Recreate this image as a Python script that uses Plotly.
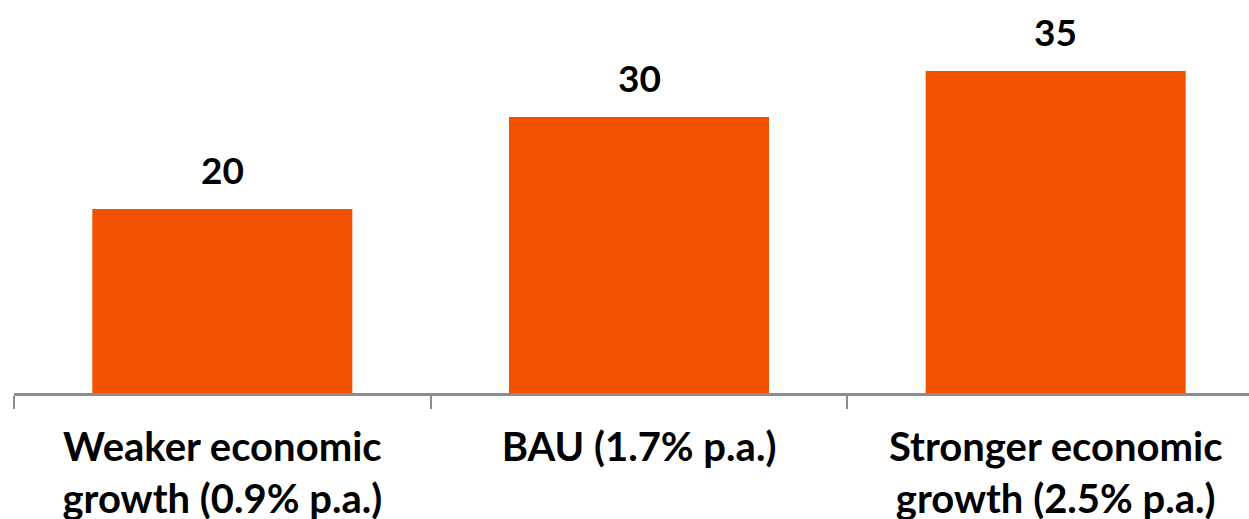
import plotly.graph_objects as go

categories = ["Weaker economic<br>growth (0.9% p.a.)", "BAU (1.7% p.a.)", "Stronger economic<br>growth (2.5% p.a.)"]
values = [20, 30, 35]

label_font = dict(family="Lato", size=37, color="#000000", weight="bold")

fig = go.Figure(
    go.Bar(
        x=categories,
        y=values,
        width=0.624,
        marker=dict(color="#F25100", line=dict(width=0)),
        cliponaxis=False,
    )
)

# value labels above each bar
for cat, val in zip(categories, values):
    fig.add_annotation(
        x=cat, y=val, text=str(val), showarrow=False,
        yanchor="bottom", yshift=15, font=label_font,
    )

fig.update_layout(
    width=1249,
    height=519,
    margin=dict(l=14, r=0, t=25, b=126, autoexpand=False),
    plot_bgcolor="white",
    paper_bgcolor="white",
    showlegend=False,
    xaxis=dict(
        range=[-0.5, 2.464],
        automargin=False,
        showline=True,
        linecolor="#8c8c8c",
        linewidth=2.5,
        ticks="outside",
        tickson="boundaries",
        ticklen=13,
        tickwidth=2,
        tickcolor="#8c8c8c",
        tickfont=dict(family="Lato", size=40, color="#000000", weight="bold"),
        ticklabelstandoff=17,
        showgrid=False,
    ),
    yaxis=dict(range=[0, 40], visible=False, showgrid=False, automargin=False),
)

fig.write_html("out.html")
